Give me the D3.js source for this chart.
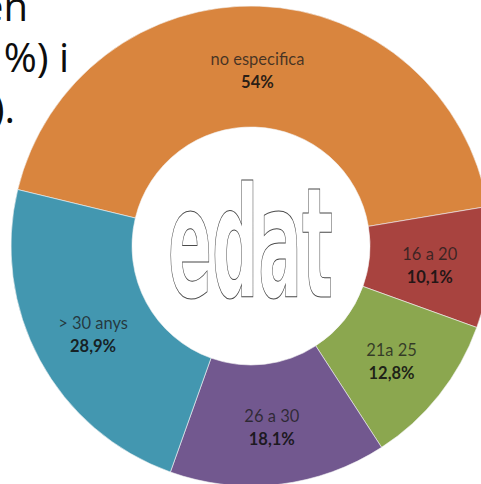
<!DOCTYPE html>
<html>
<head>
<meta charset="utf-8">
<script src="https://cdn.jsdelivr.net/npm/d3@7/dist/d3.min.js"></script>
<style>
html,body{margin:0;padding:0;background:#fff;overflow:hidden;}
svg{display:block;}
</style>
</head>
<body>
<svg id="chart" width="481" height="484"></svg>
<script>
const categories = ["no especifica", "16 a 20", "21a 25", "26 a 30", "> 30 anys"];
const values = [54, 10.1, 12.8, 18.1, 28.9];
const valueLabels = ["54%", "10,1%", "12,8%", "18,1%", "28,9%"];
const colors = ["#D9853E", "#A8433F", "#8BA74F", "#72588F", "#4397B0"];
const sideText = ["en", "%) i", ")."];
const centerWord = "edat";

const svg = d3.select("#chart");
const cx = 251, cy = 246, rOuter = 240, rInner = 119;
const start = -76.4 * Math.PI / 180;

const pie = d3.pie().sort(null).value(d => d).startAngle(start).endAngle(start + 2 * Math.PI);
const arcs = pie(values);
const arc = d3.arc().innerRadius(rInner).outerRadius(rOuter);

const g = svg.append("g").attr("transform", `translate(${cx},${cy})`);
g.selectAll("path.slice").data(arcs).enter().append("path")
  .attr("class", "slice")
  .attr("d", arc)
  .attr("fill", (d, i) => colors[i])
  .attr("stroke", "#f4f4f4").attr("stroke-width", 0.6);

const lab = g.selectAll("g.lab").data(arcs).enter().append("g")
  .attr("class", "lab")
  .attr("transform", d => { const c = arc.centroid(d); return `translate(${c[0]},${c[1]})`; });
lab.append("text")
  .attr("text-anchor", "middle").attr("y", -2)
  .attr("font-family", "Lato, 'Open Sans', sans-serif").attr("font-size", 16.5)
  .attr("fill", "#1c1c1c").attr("fill-opacity", 0.78)
  .text((d, i) => categories[i]);
lab.append("text")
  .attr("text-anchor", "middle").attr("y", 21)
  .attr("font-family", "Lato, 'Open Sans', sans-serif").attr("font-size", 16.5).attr("font-weight", "bold")
  .attr("fill", "#111").attr("fill-opacity", 0.9)
  .text((d, i) => valueLabels[i]);

// center word
g.append("text")
  .attr("x", -83).attr("y", 51)
  .attr("font-family", "'Liberation Sans Narrow', 'DejaVu Sans Condensed', sans-serif")
  .attr("font-weight", "bold").attr("font-size", 154)
  .attr("textLength", 165).attr("lengthAdjust", "spacingAndGlyphs")
  .attr("fill", "#fff").attr("stroke", "#4a4a4a").attr("stroke-width", 1)
  .text(centerWord);

// partial text at top-left
const ends = [28, 69, 15];
const bases = [21, 72, 123];
svg.selectAll("text.side").data(sideText).enter().append("text")
  .attr("class", "side")
  .attr("x", (d, i) => ends[i]).attr("y", (d, i) => bases[i])
  .attr("text-anchor", "end")
  .attr("font-family", "'Open Sans', sans-serif").attr("font-size", 40)
  .attr("fill", "#0d0d0d")
  .text(d => d);
</script>
</body>
</html>
